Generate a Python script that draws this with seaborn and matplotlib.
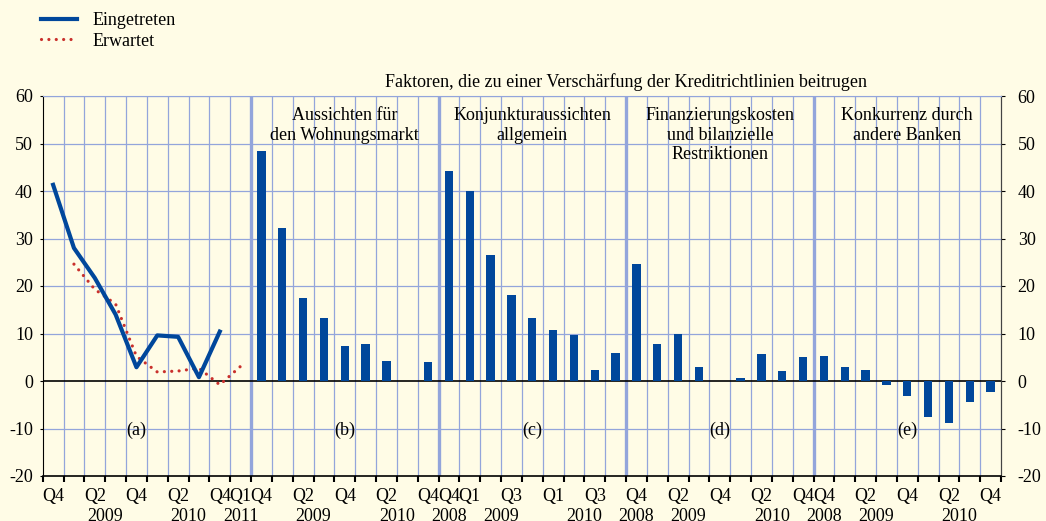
import numpy as np
import pandas as pd
import matplotlib.pyplot as plt
import seaborn as sns

# =========================
# Daten
# =========================
# Panel (a): Kreditrichtlinien, Q4 2008 bis Q1 2011
quartale_a = ["Q4", "", "Q2", "", "Q4", "", "Q2", "", "Q4", "Q1"]
jahre_a = [2008, 2009, 2009, 2009, 2009, 2010, 2010, 2010, 2010, 2011]
eingetreten = [41.3, 28.0, 21.7, 14.0, 2.9, 9.6, 9.3, 0.8, 10.4]
erwartet = [np.nan, 24.6, 19.3, 16.2, 5.2, 1.9, 2.1, 2.7, -0.8, 3.1]

# Panels (b)-(e): Faktoren, Q4 2008 bis Q4 2010
quartale_standard = ["Q4", "", "Q2", "", "Q4", "", "Q2", "", "Q4"]
quartale_c = ["Q4", "Q1", "", "Q3", "", "Q1", "", "Q3", ""]
jahre_faktoren = [2008, 2009, 2009, 2009, 2009, 2010, 2010, 2010, 2010]

wohnungsmarkt = [48.5, 32.2, 17.4, 13.2, 7.3, 7.7, 4.2, 0.0, 3.9]
konjunktur = [44.3, 39.9, 26.6, 18.2, 13.2, 10.7, 9.7, 2.3, 5.8]
finanzierung = [24.7, 7.7, 10.0, 3.0, 0.0, 0.7, 5.6, 2.1, 5.0]
konkurrenz = [5.3, 3.0, 2.3, -0.9, -3.1, -7.5, -8.9, -4.4, -2.3]

faktor_titel = [
    "Aussichten für\nden Wohnungsmarkt",
    "Konjunkturaussichten\nallgemein",
    "Finanzierungskosten\nund bilanzielle\nRestriktionen",
    "Konkurrenz durch\nandere Banken",
]
panel_buchstaben = ["(a)", "(b)", "(c)", "(d)", "(e)"]
y_ticks = [-20, -10, 0, 10, 20, 30, 40, 50, 60]
gesamttitel = "Faktoren, die zu einer Verschärfung der Kreditrichtlinien beitrugen"

# =========================
# Farben / Stil
# =========================
hintergrund = "#FFFCE6"
gitter = "#93A5DB"
blau = "#00479B"
rot = "#C9302C"

plt.rcParams["font.family"] = ["Liberation Serif", "DejaVu Serif"]
plt.rcParams["font.size"] = 13
plt.rcParams["axes.unicode_minus"] = False

# =========================
# Tabelle für seaborn
# =========================
faktor_werte = [wohnungsmarkt, konjunktur, finanzierung, konkurrenz]
n_a = len(quartale_a)
n_f = len(jahre_faktoren)
starts = [0] + [n_a + i * n_f for i in range(len(faktor_werte))]

bars = []
for i, werte in enumerate(faktor_werte):
    for j, w in enumerate(werte):
        bars.append({"pos": starts[i + 1] + j, "wert": w})
df_bars = pd.DataFrame(bars)

df_a = pd.DataFrame({"pos": np.arange(n_a),
                     "eingetreten": eingetreten + [np.nan],
                     "erwartet": erwartet})

n_total = n_a + n_f * len(faktor_werte)

# =========================
# Plot
# =========================
fig = plt.figure(figsize=(10.46, 5.21), dpi=100, facecolor=hintergrund)
ax = fig.add_axes([42.7 / 1046, 45 / 521, (1001 - 42.7) / 1046, 380 / 521])
ax.set_facecolor(hintergrund)

sns.barplot(data=df_bars, x="pos", y="wert", native_scale=True, width=0.4,
            color=blau, saturation=1, errorbar=None, ax=ax, zorder=3)
sns.lineplot(data=df_a.dropna(subset=["erwartet"]), x="pos", y="erwartet", ax=ax,
             color=rot, linewidth=2.3, linestyle=(0, (0.01, 2.3)),
             dash_capstyle="round", label="Erwartet", zorder=4, errorbar=None)
sns.lineplot(data=df_a.dropna(subset=["eingetreten"]), x="pos", y="eingetreten", ax=ax,
             color=blau, linewidth=3.0, label="Eingetreten", zorder=5, errorbar=None)

ax.set_xlim(-0.5, n_total - 0.5)
ax.set_ylim(-20, 60)
ax.set_xlabel("")
ax.set_ylabel("")

# Gitter
grenzen = [s - 0.5 for s in starts[1:]]
for k in range(1, n_total):
    x = k - 0.5
    dick = x in grenzen
    ax.axvline(x, color=gitter, lw=2.4 if dick else 0.9, zorder=0)
for y in y_ticks[1:]:
    if y != 0:
        ax.axhline(y, color=gitter, lw=0.9, zorder=0)
ax.axhline(0, color="black", lw=1.2, zorder=2)

ax.spines["top"].set_color(gitter)
ax.spines["left"].set_color("black")
ax.spines["bottom"].set_color("black")
ax.spines["right"].set_color("#444444")
ax.spines["bottom"].set_linewidth(1.2)

ax.set_xticks([k - 0.5 for k in range(n_total + 1)])
ax.set_xticklabels([])
ax.tick_params(axis="x", length=4, width=1.5, color="black", direction="out")
ax.set_yticks(y_ticks)
ax.tick_params(axis="y", length=2, pad=5, labelsize=13)

sec = ax.secondary_yaxis("right")
sec.set_yticks(y_ticks)
sec.tick_params(axis="y", length=3, pad=9, labelsize=13)
sec.spines["right"].set_color("#444444")

# Quartals- und Jahresbeschriftungen
alle_quartale = [quartale_a, quartale_standard, quartale_c, quartale_standard, quartale_standard]
alle_jahre = [jahre_a] + [jahre_faktoren] * 4
xt = ax.get_xaxis_transform()
for i, (qs, js) in enumerate(zip(alle_quartale, alle_jahre)):
    for j, q in enumerate(qs):
        if q:
            ax.text(starts[i] + j, -0.031, q, transform=xt, ha="center", va="top", fontsize=13)
    js = np.array(js)
    for jahr in np.unique(js):
        if i in (0, 1) and jahr == 2008:
            continue  # im Original in (a) und (b) nicht beschriftet
        mitte = starts[i] + np.mean(np.where(js == jahr)[0])
        ax.text(mitte, -0.084, str(jahr), transform=xt, ha="center", va="top",
                fontsize=13, clip_on=False)

# Panel-Buchstaben und Titel
for i, b in enumerate(panel_buchstaben):
    ax.text(starts[i] + 4, -10.3, b, ha="center", va="center", fontsize=13, zorder=6)
for i, t in enumerate(faktor_titel):
    ax.text(starts[i + 1] + 4, 57.7, t, ha="center", va="top", fontsize=13,
            linespacing=1.2, zorder=6)
ax.text((grenzen[0] + n_total - 0.5) / 2, 1.037, gesamttitel, transform=xt,
        ha="center", va="center", fontsize=13)

# Legende
handles, labels = ax.get_legend_handles_labels()
ax.get_legend().remove()
order = [labels.index("Eingetreten"), labels.index("Erwartet")]
fig.legend([handles[i] for i in order], [labels[i] for i in order],
           loc="upper left", bbox_to_anchor=(41 / 1046, 1 - 12 / 521),
           frameon=False, fontsize=13, handlelength=2.0, handletextpad=0.85,
           labelspacing=0.2, borderpad=0, borderaxespad=0)

fig.savefig("out.png", dpi=100, facecolor=hintergrund)
